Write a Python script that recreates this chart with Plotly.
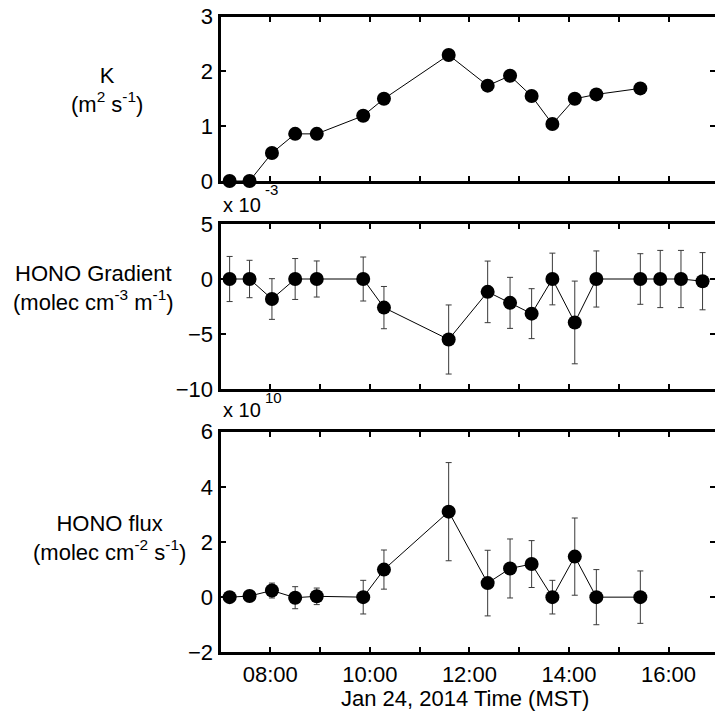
import plotly.graph_objects as go

# Sample times on 24 Jan 2014 (MST)
day = "2014-01-24 "
times = ["07:11", "07:35", "08:02", "08:30", "08:56", "09:52", "10:17", "11:35",
         "12:22", "12:49", "13:15", "13:40", "14:07", "14:33", "15:26", "15:50",
         "16:15", "16:41"]

# Eddy diffusivity K (m^2 s^-1)
k_vals = [0.0, 0.0, 0.51, 0.86, 0.86, 1.19, 1.50, 2.30, 1.74, 1.92, 1.55, 1.04,
          1.50, 1.58, 1.69]

# HONO gradient, in units of 1e-3 molec cm^-3 m^-1
grad_vals = [0.0, 0.0, -1.82, 0.0, 0.0, 0.0, -2.6, -5.5, -1.17, -2.17, -3.15, 0.0,
             -3.95, 0.0, 0.0, 0.0, 0.0, -0.2]
grad_err = [2.05, 1.7, 1.85, 1.86, 1.64, 2.0, 1.92, 3.14, 2.8, 2.32, 2.27, 2.35,
            3.76, 2.55, 2.3, 2.6, 2.6, 2.6]

# HONO flux, in units of 1e10 molec cm^-2 s^-1
flux_vals = [0.0, 0.04, 0.24, -0.02, 0.03, 0.0, 1.0, 3.1, 0.51, 1.04, 1.2, 0.0,
             1.47, 0.0, 0.0]
flux_err = [0.0, 0.0, 0.27, 0.4, 0.3, 0.61, 0.71, 1.78, 1.19, 1.07, 0.85, 0.61,
            1.4, 1.0, 0.95]

# y-axis tick values for each panel
k_ticks = [0, 1, 2, 3]
grad_ticks = [-10, -5, 0, 5]
flux_ticks = [-2, 0, 2, 4, 6]

x_all = [day + t for t in times]

FONT = "Liberation Sans, Arial, Helvetica, sans-serif"
W, H = 715, 714
HOUR_MS = 3600000

fig = go.Figure()

marker = dict(color="black", size=14, symbol="circle")
line = dict(color="black", width=1)

fig.add_trace(go.Scatter(x=x_all[:len(k_vals)], y=k_vals, mode="lines+markers",
                         marker=marker, line=line, cliponaxis=False,
                         xaxis="x", yaxis="y"))
fig.add_trace(go.Scatter(x=x_all[:len(grad_vals)], y=grad_vals, mode="lines+markers",
                         marker=marker, line=line, cliponaxis=False,
                         error_y=dict(type="data", array=grad_err, color="#3a3a3a",
                                      thickness=1, width=3),
                         xaxis="x2", yaxis="y2"))
fig.add_trace(go.Scatter(x=x_all[:len(flux_vals)], y=flux_vals, mode="lines+markers",
                         marker=marker, line=line, cliponaxis=False,
                         error_y=dict(type="data", array=flux_err, color="#3a3a3a",
                                      thickness=1, width=3),
                         xaxis="x3", yaxis="y3"))


def px_dom(top, bottom):
    return [1 - bottom / H, 1 - top / H]


x_left = 220.5
xdom = [x_left / W, 1.0]

common_x = dict(
    type="date", range=[day + "07:00", day + "16:56"], domain=xdom,
    tick0=day + "08:00", dtick=2 * HOUR_MS, tickformat="%H:%M",
    ticks="inside", ticklen=5, tickwidth=2, tickcolor="black",
    minor=dict(ticks="inside", dtick=HOUR_MS, tick0=day + "07:00",
               ticklen=5, tickwidth=2, tickcolor="black", showgrid=False),
    showline=True, linewidth=3, linecolor="black", mirror="ticks",
    showgrid=False, zeroline=False, automargin=False,
    tickfont=dict(family=FONT, size=22, color="black"),
)
# the mirrored right-hand frame line falls just past the page edge,
# leaving only its inward tick marks visible
common_y = dict(
    ticks="inside", ticklen=5, tickwidth=2, tickcolor="black",
    showline=True, linewidth=3, linecolor="black", mirror="ticks",
    showgrid=False, zeroline=False, automargin=False,
    tickfont=dict(family=FONT, size=22, color="black"),
)

panels = [
    (px_dom(16.6, 181), [0, 3], k_ticks),
    (px_dom(224, 389), [-10, 5], grad_ticks),
    (px_dom(431.7, 652.3), [-2, 6], flux_ticks),
]

layout_axes = {}
for i, (dom, rng, tv) in enumerate(panels, start=1):
    sfx = "" if i == 1 else str(i)
    layout_axes["xaxis" + sfx] = dict(common_x, anchor="y" + sfx,
                                      showticklabels=(i == 3))
    layout_axes["yaxis" + sfx] = dict(common_y, anchor="x" + sfx, domain=dom,
                                      range=rng, tickvals=tv)

fig.update_layout(
    width=W, height=H,
    margin=dict(l=0, r=0, t=0, b=0, autoexpand=False),
    paper_bgcolor="white", plot_bgcolor="white",
    showlegend=False,
    font=dict(family=FONT, color="black"),
    **layout_axes,
)

ann_font = dict(family=FONT, size=22, color="black")
labels = [
    ("K<br>(m<sup>2</sup> s<sup>-1</sup>)", 107, 90),
    ("HONO Gradient<br>(molec cm<sup>-3</sup> m<sup>-1</sup>)", 93, 288),
    ("HONO flux<br>(molec cm<sup>-2</sup> s<sup>-1</sup>)", 109, 538),
]
for text, cx, cy in labels:
    fig.add_annotation(text=text, x=cx / W, y=1 - cy / H, xref="paper", yref="paper",
                       xanchor="center", yanchor="middle", showarrow=False,
                       align="center", font=ann_font)

# Exponent labels above the lower two panels
for base_y, exp_text, exp_y in [(204.5, "-3", 190), (410, "10", 397)]:
    fig.add_annotation(text="x 10", x=221 / W, y=1 - base_y / H, xref="paper",
                       yref="paper", xanchor="left", yanchor="middle",
                       showarrow=False, font=dict(family=FONT, size=20, color="black"))
    fig.add_annotation(text=exp_text, x=263 / W, y=1 - exp_y / H, xref="paper",
                       yref="paper", xanchor="left", yanchor="middle",
                       showarrow=False, font=dict(family=FONT, size=15, color="black"))

fig.add_annotation(text="Jan 24, 2014 Time (MST)", x=465 / W, y=1 - 698 / H,
                   xref="paper", yref="paper", xanchor="center", yanchor="middle",
                   showarrow=False, font=ann_font)

fig.write_html("out.html")
